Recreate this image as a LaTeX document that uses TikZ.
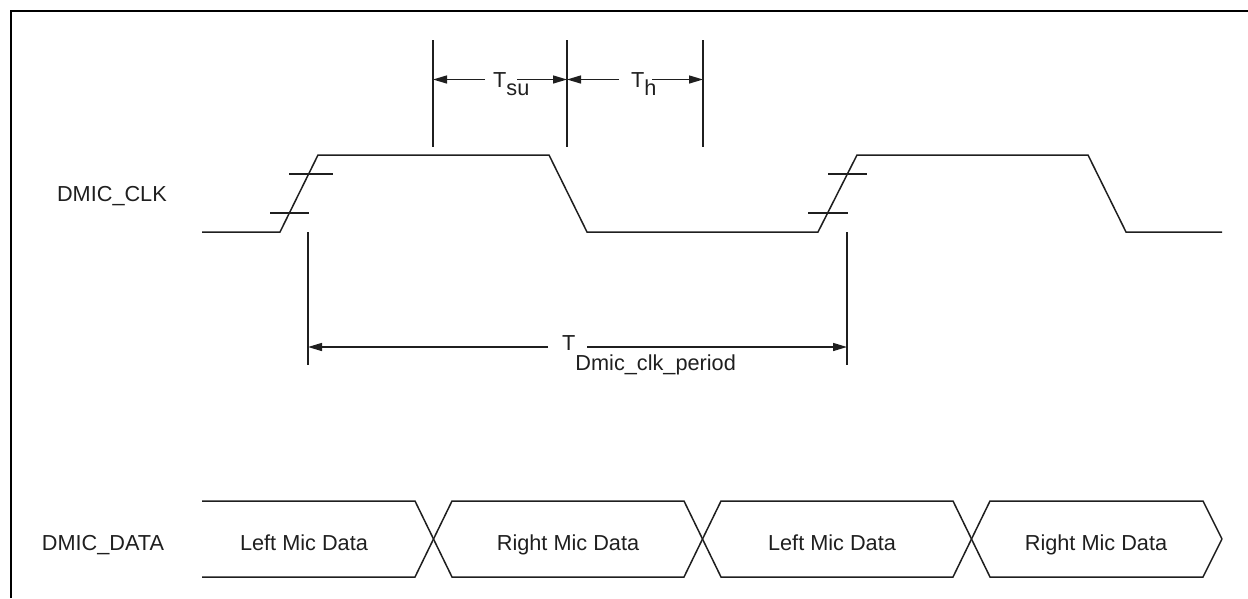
\documentclass[tikz,border=0pt]{standalone}
\usepackage{fontspec}
\setmainfont{Liberation Sans}
\usetikzlibrary{arrows.meta}
\begin{document}
\begin{tikzpicture}[x=1pt,y=-1pt,
  wave/.style={line width=1.5pt,line join=miter,color=black!88},
  guide/.style={line width=1.4pt,color=black!88},
  frame/.style={line width=1.8pt},
  dim/.style={line width=1.4pt,color=black!88,-{Triangle[length=14pt,width=8pt]}},
  lbl/.style={inner sep=0pt,font=\fontsize{21.7}{26}\selectfont,text=black!88}]
\useasboundingbox (0,0) rectangle (1248,598);
% frame
\coordinate (fb) at (11,598);
\coordinate (fc) at (11,11);
\coordinate (fr) at (1248,11);
\draw[frame] (fb) -- (fc) -- (fr);

% labels
\node[lbl,anchor=base east] (clk) at (167,201.7) {DMIC\_CLK};
\node[lbl,anchor=base west] (dat) at (41.7,550) {DMIC\_DATA};

% clock waveform
\coordinate (c0) at (202,232);
\coordinate (c1) at (280,232);
\coordinate (c2) at (318,155);
\coordinate (c3) at (549,155);
\coordinate (c4) at (587,232);
\coordinate (c5) at (818,232);
\coordinate (c6) at (857,155);
\coordinate (c7) at (1088,155);
\coordinate (c8) at (1126,232);
\coordinate (c9) at (1222,232);
\draw[wave] (c0) -- (c1) -- (c2) -- (c3) -- (c4) -- (c5) -- (c6) -- (c7) -- (c8) -- (c9);

% threshold ticks
\coordinate (ta1) at (289,174); \coordinate (ta2) at (333,174);
\coordinate (tb1) at (270,213); \coordinate (tb2) at (309,213);
\coordinate (tc1) at (828,174); \coordinate (tc2) at (867,174);
\coordinate (td1) at (808,213); \coordinate (td2) at (848,213);
\draw[guide] (ta1) -- (ta2);
\draw[guide] (tb1) -- (tb2);
\draw[guide] (tc1) -- (tc2);
\draw[guide] (td1) -- (td2);

% setup / hold guides
\coordinate (g1t) at (433,40);  \coordinate (g1b) at (433,147);
\coordinate (g2t) at (567,40);  \coordinate (g2b) at (567,147);
\coordinate (g3t) at (703,40);  \coordinate (g3b) at (703,147);
\draw[guide] (g1t) -- (g1b);
\draw[guide] (g2t) -- (g2b);
\draw[guide] (g3t) -- (g3b);
\coordinate (g1m) at (433,79.5);
\coordinate (g2m) at (567,79.5);
\coordinate (g3m) at (703,79.5);

\node[lbl,anchor=base west] (tsu) at (493,87) {T\raisebox{-8.5pt}{su}};
\node[lbl,anchor=base west] (th) at (631,87) {T\raisebox{-8pt}{h}};
\coordinate (su1) at (485,79.5); \coordinate (su2) at (517,79.5);
\coordinate (h1) at (619,79.5);  \coordinate (h2) at (652,79.5);
\draw[dim] (su1) -- (g1m);
\draw[dim] (su2) -- (g2m);
\draw[dim] (h1) -- (g2m);
\draw[dim] (h2) -- (g3m);

% period
\coordinate (p1t) at (308,232); \coordinate (p1b) at (308,365);
\coordinate (p2t) at (847,232); \coordinate (p2b) at (847,365);
\draw[guide] (p1t) -- (p1b);
\draw[guide] (p2t) -- (p2b);
\coordinate (p1m) at (308,347);
\coordinate (p2m) at (847,347);
\node[lbl,anchor=base west] (tp) at (562,350) {T\raisebox{-20.5pt}{Dmic\_clk\_period}};
\coordinate (pa) at (548,347); \coordinate (pb) at (587,347);
\draw[dim] (pa) -- (p1m);
\draw[dim] (pb) -- (p2m);

% data bus
\coordinate (a0) at (202,501); \coordinate (a1) at (415,501); \coordinate (a2) at (452,577);
\coordinate (a3) at (684,577); \coordinate (a4) at (721,501); \coordinate (a5) at (953,501);
\coordinate (a6) at (990,577); \coordinate (a7) at (1203,577); \coordinate (tip) at (1222,539);
\coordinate (b0) at (202,577); \coordinate (b1) at (415,577); \coordinate (b2) at (452,501);
\coordinate (b3) at (684,501); \coordinate (b4) at (721,577); \coordinate (b5) at (953,577);
\coordinate (b6) at (990,501); \coordinate (b7) at (1203,501);
\draw[wave] (a0) -- (a1) -- (a2) -- (a3) -- (a4) -- (a5) -- (a6) -- (a7) -- (tip);
\draw[wave] (b0) -- (b1) -- (b2) -- (b3) -- (b4) -- (b5) -- (b6) -- (b7) -- (tip);

\node[lbl,anchor=base] (d1) at (304,550) {Left Mic Data};
\node[lbl,anchor=base] (d2) at (568,550) {Right Mic Data};
\node[lbl,anchor=base] (d3) at (832,550) {Left Mic Data};
\node[lbl,anchor=base] (d4) at (1096,550) {Right Mic Data};
\end{tikzpicture}
\end{document}
